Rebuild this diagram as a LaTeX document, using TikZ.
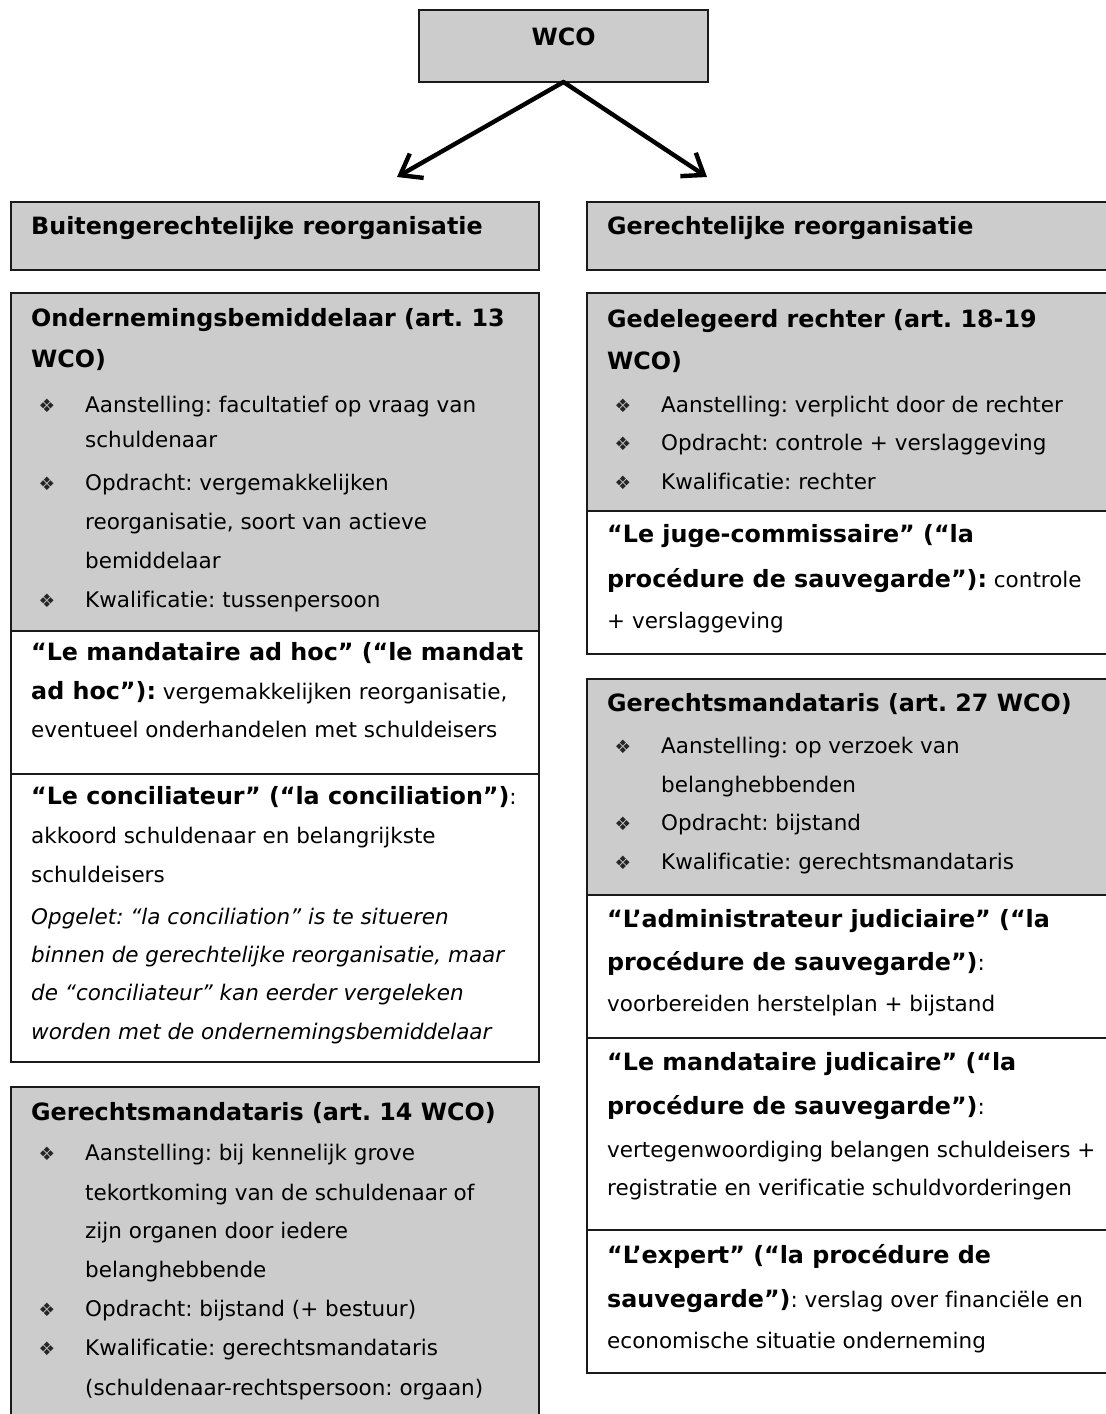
\documentclass[tikz,border=0pt]{standalone}
\usepackage{fontspec}
\setmainfont{DejaVu Sans}[Ligatures=NoCommon]
\usetikzlibrary{arrows.meta}
\definecolor{boxgray}{HTML}{CCCCCC}
\definecolor{edgecol}{HTML}{1A1A1A}
\newcommand{\nsz}{\fontsize{21.5}{25}\selectfont}
\newcommand{\bsz}{\fontsize{23.8}{28}\selectfont\bfseries}
\frenchspacing
\begin{document}
\begin{tikzpicture}[x=1pt,y=-1pt,
  frame/.style={draw=edgecol, line width=1.6pt, anchor=north west, inner sep=0pt, outer sep=0pt},
  grbox/.style={frame, fill=boxgray},
  whbox/.style={frame, fill=white},
  txt/.style={inner sep=0pt, anchor=base west, font=\nsz},
  ttl/.style={inner sep=0pt, anchor=base west, font=\bsz},
  itl/.style={inner sep=0pt, anchor=base west, font=\nsz\itshape},
  bul/.style={inner sep=0pt, anchor=base, text=black!85, font=\fontsize{18.5}{20}\selectfont},
  arr/.style={line width=4.4pt, draw=black, line cap=round, -{Straight Barb[length=19pt,width=28pt]}}]
\clip (0,0) rectangle (1106,1414);
\fill[white] (0,0) rectangle (1106,1414);

% top node and arrows
\node[grbox, minimum width=289pt, minimum height=72pt] (wco) at (419,10) {};
\node[ttl, anchor=base] (wcot) at (563.5,45) {WCO};
\coordinate (tipL) at (397,177);
\coordinate (tipR) at (707,177);
\draw[arr] (wco.south) -- (tipL);
\draw[arr] (wco.south) -- (tipR);

% ---------------- left column ----------------
\node[grbox, minimum width=528pt, minimum height=68pt] (hl) at (11,202) {};
\node[ttl] (hlt) at (31,234) {Buitengerechtelijke reorganisatie};

\node[grbox, minimum width=528pt, minimum height=338pt] (b1) at (11,293) {};
\node[whbox, minimum width=528pt, minimum height=143pt] (b1w1) at (11,631) {};
\node[whbox, minimum width=528pt, minimum height=288pt] (b1w2) at (11,774) {};

\node[ttl] (l1) at (31,326) {Ondernemingsbemiddelaar (art. 13};
\node[ttl] (l2) at (31,367) {WCO)};
\node[bul] (lb1) at (47,412) {❖};
\node[txt] (l3) at (85,412) {Aanstelling: facultatief op vraag van};
\node[txt] (l4) at (85,447) {schuldenaar};
\node[bul] (lb2) at (47,490) {❖};
\node[txt] (l5) at (85,490) {Opdracht: vergemakkelijken};
\node[txt] (l6) at (85,529) {reorganisatie, soort van actieve};
\node[txt] (l7) at (85,568) {bemiddelaar};
\node[bul] (lb3) at (47,607) {❖};
\node[txt] (l8) at (85,607) {Kwalificatie: tussenpersoon};

\node[ttl] (l9) at (31,660) {“Le mandataire ad hoc” (“le mandat};
\node[txt] (l10) at (31,699) {{\bsz ad hoc”):} vergemakkelijken reorganisatie,};
\node[txt] (l11) at (31,737) {eventueel onderhandelen met schuldeisers};

\node[txt] (l12) at (31,804) {{\bsz “Le conciliateur” (“la conciliation”)}:};
\node[txt] (l13) at (31,843) {akkoord schuldenaar en belangrijkste};
\node[txt] (l14) at (31,882) {schuldeisers};
\node[itl] (l15) at (31,924) {Opgelet: “la conciliation” is te situeren};
\node[itl] (l16) at (31,962) {binnen de gerechtelijke reorganisatie, maar};
\node[itl] (l17) at (31,1000) {de “conciliateur” kan eerder vergeleken};
\node[itl] (l18) at (31,1039) {worden met de ondernemingsbemiddelaar};

\node[grbox, minimum width=528pt, minimum height=360pt] (b2) at (11,1087) {};
\node[ttl] (m1) at (31,1120) {Gerechtsmandataris (art. 14 WCO)};
\node[bul] (mb1) at (47,1160) {❖};
\node[txt] (m2) at (85,1160) {Aanstelling: bij kennelijk grove};
\node[txt] (m3) at (85,1200) {tekortkoming van de schuldenaar of};
\node[txt] (m4) at (85,1238) {zijn organen door iedere};
\node[txt] (m5) at (85,1277) {belanghebbende};
\node[bul] (mb2) at (47,1316) {❖};
\node[txt] (m6) at (85,1316) {Opdracht: bijstand (+ bestuur)};
\node[bul] (mb3) at (47,1355) {❖};
\node[txt] (m7) at (85,1355) {Kwalificatie: gerechtsmandataris};
\node[txt] (m8) at (85,1395) {(schuldenaar-rechtspersoon: orgaan)};

% ---------------- right column ----------------
\node[grbox, minimum width=540pt, minimum height=68pt] (hr) at (587,202) {};
\node[ttl] (hrt) at (607,234) {Gerechtelijke reorganisatie};

\node[grbox, minimum width=540pt, minimum height=218pt] (b3) at (587,293) {};
\node[whbox, minimum width=540pt, minimum height=143pt] (b3w) at (587,511) {};
\node[ttl] (r1) at (607,327) {Gedelegeerd rechter (art. 18-19};
\node[ttl] (r2) at (607,369) {WCO)};
\node[bul] (rb1) at (623,412) {❖};
\node[txt] (r3) at (661,412) {Aanstelling: verplicht door de rechter};
\node[bul] (rb2) at (623,450) {❖};
\node[txt] (r4) at (661,450) {Opdracht: controle + verslaggeving};
\node[bul] (rb3) at (623,489) {❖};
\node[txt] (r5) at (661,489) {Kwalificatie: rechter};
\node[ttl] (r6) at (607,542) {“Le juge-commissaire” (“la};
\node[txt] (r7) at (607,587) {{\bsz procédure de sauvegarde”):} controle};
\node[txt] (r8) at (607,628) {+ verslaggeving};

\node[grbox, minimum width=540pt, minimum height=216pt] (b4) at (587,679) {};
\node[whbox, minimum width=540pt, minimum height=143pt] (b4w1) at (587,895) {};
\node[whbox, minimum width=540pt, minimum height=192pt] (b4w2) at (587,1038) {};
\node[whbox, minimum width=540pt, minimum height=143pt] (b4w3) at (587,1230) {};
\node[ttl] (s1) at (607,711) {Gerechtsmandataris (art. 27 WCO)};
\node[bul] (sb1) at (623,753) {❖};
\node[txt] (s2) at (661,753) {Aanstelling: op verzoek van};
\node[txt] (s3) at (661,792) {belanghebbenden};
\node[bul] (sb2) at (623,830) {❖};
\node[txt] (s4) at (661,830) {Opdracht: bijstand};
\node[bul] (sb3) at (623,869) {❖};
\node[txt] (s5) at (661,869) {Kwalificatie: gerechtsmandataris};
\node[ttl] (s6) at (607,927) {“L’administrateur judiciaire” (“la};
\node[txt] (s7) at (607,970) {{\bsz procédure de sauvegarde”)}:};
\node[txt] (s8) at (607,1011) {voorbereiden herstelplan + bijstand};
\node[ttl] (s9) at (607,1070) {“Le mandataire judicaire” (“la};
\node[txt] (s10) at (607,1114) {{\bsz procédure de sauvegarde”)}:};
\node[txt] (s11) at (607,1157) {vertegenwoordiging belangen schuldeisers +};
\node[txt] (s12) at (607,1195) {registratie en verificatie schuldvorderingen};
\node[ttl] (s13) at (607,1263) {“L’expert” (“la procédure de};
\node[txt] (s14) at (607,1307) {{\bsz sauvegarde”)}: verslag over financiële en};
\node[txt] (s15) at (607,1348) {economische situatie onderneming};
\end{tikzpicture}
\end{document}
